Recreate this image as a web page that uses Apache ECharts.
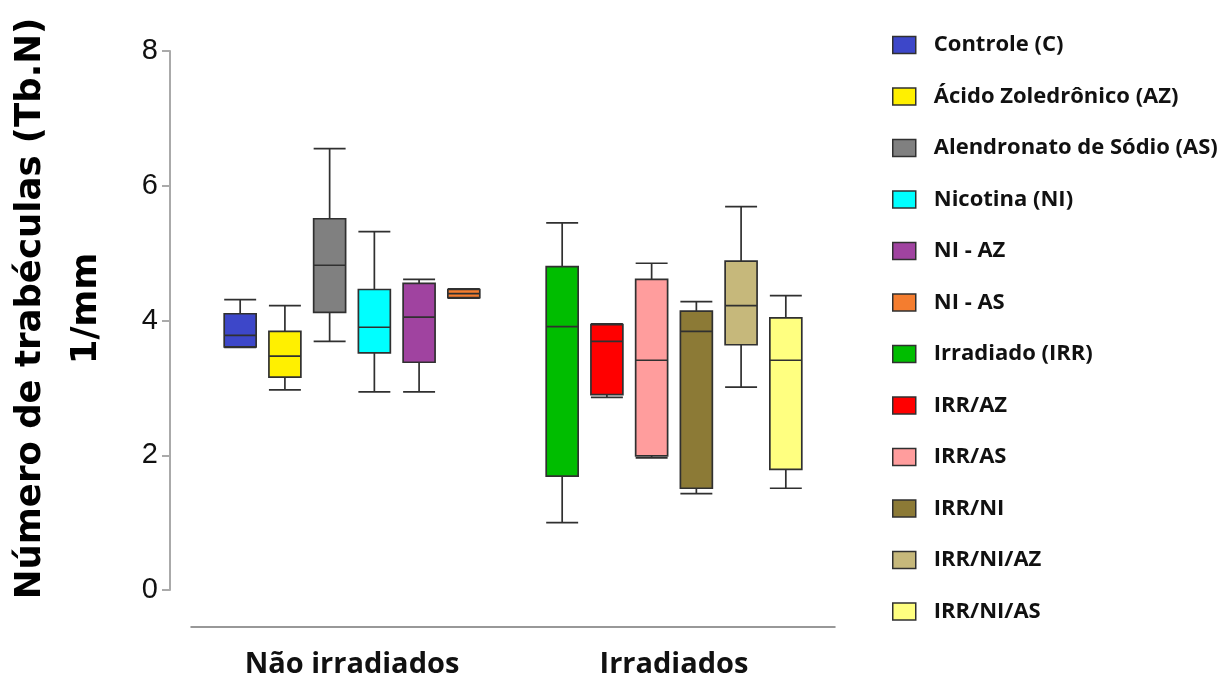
<!DOCTYPE html>
<html>
<head>
<meta charset="utf-8">
<title>Número de trabéculas</title>
<script src="https://cdn.jsdelivr.net/npm/echarts@6/dist/echarts.min.js"></script>
<style>
  html, body { margin: 0; padding: 0; background: #fff; }
  #chart { width: 1221px; height: 688px; }
</style>
</head>
<body>
<div id="chart"></div>
<script>
// grupos no eixo x
var categories = ['Não irradiados', 'Irradiados']
var yTicks = { min: 0, max: 8, interval: 2 }

// nomes dos grupos (legenda), na ordem dos boxes
var groupNames = [
  'Controle (C)', 'Ácido Zoledrônico (AZ)', 'Alendronato de Sódio (AS)',
  'Nicotina (NI)', 'NI - AZ', 'NI - AS',
  'Irradiado (IRR)', 'IRR/AZ', 'IRR/AS', 'IRR/NI', 'IRR/NI/AZ', 'IRR/NI/AS'
]
// a qual grupo do eixo x pertence cada box
var groupCategory = [0, 0, 0, 0, 0, 0, 1, 1, 1, 1, 1, 1]

// [min, Q1, mediana, Q3, max]
var controle = [3.60, 3.61, 3.78, 4.10, 4.31]
var acidoZol = [2.97, 3.16, 3.47, 3.84, 4.22]
var alendronato = [3.69, 4.12, 4.82, 5.51, 6.55]
var nicotina = [2.94, 3.52, 3.90, 4.46, 5.32]
var niAz = [2.94, 3.38, 4.05, 4.55, 4.61]
var niAs = [4.33, 4.34, 4.40, 4.46, 4.47]
var irr = [1.00, 1.69, 3.91, 4.80, 5.45]
var irrAz = [2.86, 2.90, 3.69, 3.94, 3.95]
var irrAs = [1.96, 1.99, 3.41, 4.61, 4.85]
var irrNi = [1.43, 1.51, 3.84, 4.14, 4.28]
var irrNiAz = [3.01, 3.64, 4.22, 4.88, 5.69]
var irrNiAs = [1.51, 1.79, 3.41, 4.04, 4.37]

var groupValues = [controle, acidoZol, alendronato, nicotina, niAz, niAs,
  irr, irrAz, irrAs, irrNi, irrNiAz, irrNiAs]

var colors = ['#3d47c9', '#fff000', '#808080', '#00ffff', '#a043a0', '#f47d2f',
  '#00bd00', '#ff0000', '#ff9d9d', '#8c7a36', '#c6b87b', '#ffff80']

var boxBorder = '#303030'
var labelFont = '"Open Sans", "DejaVu Sans", sans-serif'

var series = groupNames.map(function (name, i) {
  var cat = groupCategory[i]
  return {
    name: name,
    type: 'boxplot',
    xAxisIndex: cat,
    encode: { x: 0, y: [1, 2, 3, 4, 5] },
    data: [[categories[cat]].concat(groupValues[i])],
    itemStyle: {
      color: colors[i],
      borderColor: boxBorder,
      borderWidth: 1.7
    },
    emphasis: { disabled: true }
  }
})

var legendData = groupNames.map(function (name, i) {
  return {
    name: name,
    itemStyle: { color: colors[i], borderColor: boxBorder, borderWidth: 1.5 }
  }
})

var xAxisBase = {
  type: 'category',
  data: categories,
  position: 'bottom',
  offset: 37
}

var chart = echarts.init(document.getElementById('chart'))
chart.setOption({
  animation: false,
  grid: { left: 191, right: 386, top: 51, bottom: 98, containLabel: false, outerBoundsMode: 'none' },
  legend: {
    orient: 'vertical',
    left: 892,
    top: 34,
    padding: 0,
    icon: 'rect',
    itemWidth: 23,
    itemHeight: 17,
    itemGap: 29.5,
    selectedMode: false,
    data: legendData,
    textStyle: {
      fontFamily: labelFont,
      fontWeight: 'bold',
      fontSize: 22,
      color: '#111',
      padding: [0, 0, 0, 13]
    }
  },
  xAxis: [
    Object.assign({}, xAxisBase, {
      axisLine: { onZero: false, lineStyle: { color: '#777', width: 1.5 } },
      axisTick: { alignWithLabel: true, length: 8, lineStyle: { color: '#777', width: 1.5 } },
      axisLabel: {
        interval: 0,
        margin: 23,
        fontFamily: labelFont,
        fontWeight: 'bold',
        fontSize: 29,
        color: '#111'
      }
    }),
    Object.assign({}, xAxisBase, { show: false })
  ],
  yAxis: {
    type: 'value',
    min: yTicks.min,
    max: yTicks.max,
    interval: yTicks.interval,
    offset: 21,
    name: 'Número de trabéculas (Tb.N)\n1/mm',
    nameLocation: 'middle',
    nameGap: 55,
    nameTextStyle: {
      fontFamily: '"DejaVu Sans", sans-serif',
      fontWeight: 'bold',
      fontSize: 35.5,
      lineHeight: 56,
      color: '#000',
      padding: [0, 0, 0, 24]
    },
    axisLine: { show: true, lineStyle: { color: '#aaa', width: 2 } },
    axisTick: { show: true, length: 8, lineStyle: { color: '#aaa', width: 2 } },
    splitLine: { show: false },
    axisLabel: {
      margin: 12,
      fontFamily: '"Liberation Sans", Arial, sans-serif',
      fontSize: 29,
      color: '#111'
    }
  },
  series: series
})
</script>
</body>
</html>
